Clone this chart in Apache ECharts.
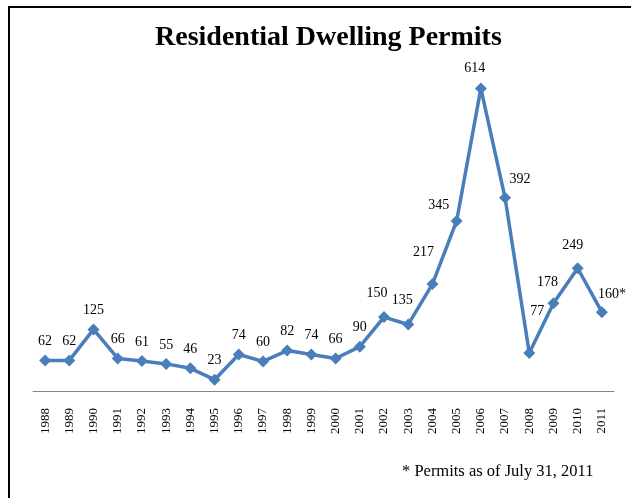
<!DOCTYPE html>
<html>
<head>
<meta charset="utf-8">
<script src="https://cdn.jsdelivr.net/npm/echarts@6/dist/echarts.min.js"></script>
<style>
  html, body { margin: 0; padding: 0; background: #fff; }
  #chart { width: 631px; height: 498px; }
</style>
</head>
<body>
<div id="chart"></div>
<script>
// ---- data ----
var years = ['1988','1989','1990','1991','1992','1993','1994','1995','1996','1997','1998','1999',
             '2000','2001','2002','2003','2004','2005','2006','2007','2008','2009','2010','2011'];
var permits = [62, 62, 125, 66, 61, 55, 46, 23, 74, 60, 82, 74,
               66, 90, 150, 135, 217, 345, 614, 392, 77, 178, 249, 160];
var noteYears = ['2011'];
var titleText = 'Residential Dwelling Permits';
var footnoteText = '* Permits as of July 31, 2011';

// ---- label placement tweaks (style only, relative to marker centre) ----
var defaultLabelShift = [0, -19];
var labelShifts = {
  '2002': [-7, -24],
  '2003': [-6, -24],
  '2004': [-9, -32],
  '2005': [-18, -16],
  '2006': [-6, -20],
  '2007': [15, -18],
  '2008': [8, -42],
  '2009': [-6, -21],
  '2010': [-5, -23],
  '2011': [10, -18]
};

var serif = "'Liberation Serif', 'DejaVu Serif', serif";
var markerSize = 12;

var seriesData = permits.map(function (v, i) {
  var s = labelShifts[years[i]] || defaultLabelShift;
  return {
    value: v,
    label: { position: [markerSize / 2 + s[0], markerSize / 2 + s[1]] }
  };
});

var chart = echarts.init(document.getElementById('chart'), null, { renderer: 'canvas' });
chart.setOption({
  animation: false,
  backgroundColor: '#fff',
  title: {
    text: titleText,
    left: 150,
    top: 19,
    textStyle: { fontFamily: serif, fontWeight: 'bold', fontSize: 28, color: '#000' }
  },
  grid: { left: 33, right: 17, top: 46, bottom: 107, containLabel: false },
  xAxis: {
    type: 'category',
    data: years,
    boundaryGap: true,
    axisLine: { show: true, lineStyle: { color: '#868686', width: 1 } },
    axisTick: { show: false },
    axisLabel: {
      rotate: 90,
      margin: 17,
      interval: 0,
      fontFamily: serif,
      fontSize: 13,
      color: '#000'
    }
  },
  yAxis: {
    type: 'value',
    min: 0,
    max: 700,
    show: false,
    splitLine: { show: false }
  },
  series: [{
    type: 'line',
    data: seriesData,
    symbol: 'diamond',
    symbolSize: markerSize,
    itemStyle: { color: '#4a7ebb' },
    lineStyle: { color: '#4a7ebb', width: 3.5 },
    label: {
      show: true,
      align: 'center',
      verticalAlign: 'middle',
      fontFamily: serif,
      fontSize: 14,
      color: '#000',
      formatter: function (p) {
        return p.value + (noteYears.indexOf(p.name) >= 0 ? '*' : '');
      }
    },
    labelLayout: { hideOverlap: false }
  }],
  graphic: [
    {
      type: 'rect',
      shape: { x: 9, y: 7, width: 700, height: 600 },
      style: { fill: null, stroke: '#000', lineWidth: 2 },
      silent: true,
      z: 100
    },
    {
      type: 'text',
      left: 402,
      top: 463,
      style: { text: footnoteText, fontFamily: serif, fontSize: 16.5, fill: '#000' }
    }
  ]
});
</script>
</body>
</html>
